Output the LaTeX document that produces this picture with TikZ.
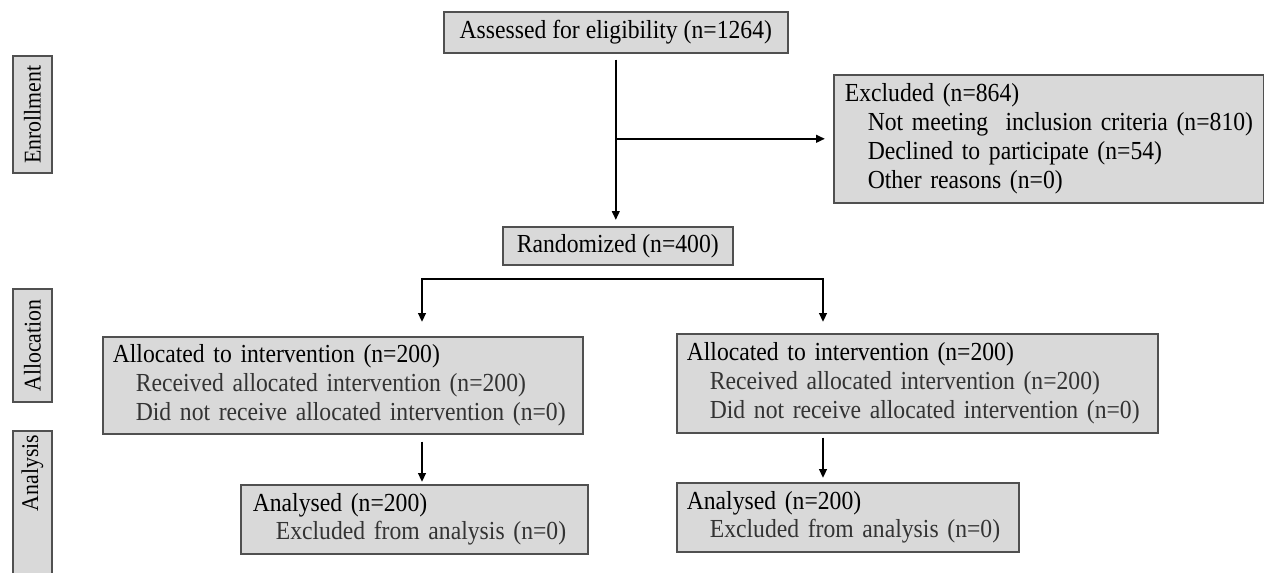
\documentclass[tikz,border=0pt]{standalone}
\usepackage{fontspec}
\setmainfont[FakeStretch=0.91]{Liberation Serif}
\definecolor{boxgray}{HTML}{D9D9D9}
\definecolor{edgegray}{HTML}{505050}
\definecolor{subtext}{HTML}{333333}
\usetikzlibrary{arrows.meta, positioning, calc}
\newcommand{\subline}[1]{\hspace*{11.5pt}\mbox{#1}}

\begin{document}
\begin{tikzpicture}[
    x=0.5pt, y=-0.5pt,
    >={Triangle[length=4.5pt, width=3.8pt]},
    box/.style={rectangle, draw=edgegray, fill=boxgray, line width=0.8pt, anchor=north west, align=left, inner xsep=5pt, inner ysep=2pt, font=\fontsize{13}{14.4}\selectfont},
    cbox/.style={box, align=center},
    side/.style={rectangle, draw=edgegray, fill=boxgray, line width=0.8pt, rotate=90, minimum height=19.5pt, inner sep=1pt, font=\fontsize{12}{13}\selectfont},
    arr/.style={->, line width=1.1pt, color=black},
]
    \useasboundingbox (0,0) rectangle (1264,573);

    % stage labels
    \node[side, minimum width=58.5pt] (enrol) at (32.5,114.5) {Enrollment};
    \node[side, minimum width=56.5pt] (alloc) at (32.5,345.5) {Allocation};
    \node[side, text width=80pt, align=right, anchor=east, inner xsep=2pt] (analysis) at (32.5,430) {Analysis};

    % enrollment
    \node[cbox, minimum width=172pt, minimum height=20.5pt] (assess) at (443,11) {Assessed for eligibility (n=1264)};
    \node[box, text width=204pt, minimum height=64pt, inner xsep=5.5pt] (excl) at (833,74) {Excluded (n=864)\\
        \subline{Not meeting\ \ inclusion criteria (n=810)}\\
        \subline{Declined to participate (n=54)}\\
        \subline{Other reasons (n=0)}};
    \node[cbox, minimum width=115pt, minimum height=19pt] (rand) at (502,226) {Randomized (n=400)};

    % allocation
    \node[box, text width=230pt, minimum height=48.5pt] (allocL) at (102,336) {Allocated to intervention (n=200)\\
        \color{subtext}\subline{Received allocated intervention (n=200)}\\
        \color{subtext}\subline{Did not receive allocated intervention (n=0)}};
    \node[box, text width=230.5pt, minimum height=49.5pt] (allocR) at (676,333) {Allocated to intervention (n=200)\\
        \color{subtext}\subline{Received allocated intervention (n=200)}\\
        \color{subtext}\subline{Did not receive allocated intervention (n=0)}};

    % analysis
    \node[box, text width=161.5pt, minimum height=34.5pt, inner xsep=6pt] (anaL) at (240,484) {Analysed (n=200)\\
        \color{subtext}\subline{Excluded from analysis (n=0)}};
    \node[box, text width=161pt, minimum height=34.5pt] (anaR) at (676,482) {Analysed (n=200)\\
        \color{subtext}\subline{Excluded from analysis (n=0)}};

    \coordinate (splitL) at (422,279);
    \coordinate (splitR) at (823,279);

    \draw[arr, shorten <=3pt, shorten >=3pt] (assess.south) -- (assess.south |- rand.north);
    \draw[arr, shorten >=4pt] (assess.south |- excl.west) -- (excl.west);
    \draw[arr, <->, shorten <=7pt, shorten >=5.5pt] (splitL |- allocL.north) -- (splitL) -- (splitR) -- (splitR |- allocR.north);
    \draw[arr, shorten <=3.5pt, shorten >=1pt] (splitL |- allocL.south) -- (splitL |- anaL.north);
    \draw[arr, shorten <=2pt, shorten >=2pt] (splitR |- allocR.south) -- (splitR |- anaR.north);
\end{tikzpicture}
\end{document}
